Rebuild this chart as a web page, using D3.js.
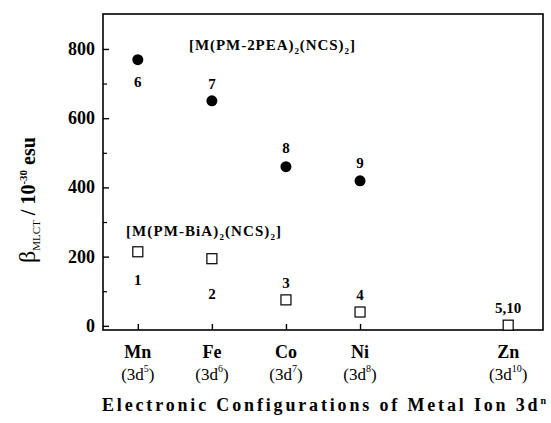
<!DOCTYPE html>
<html><head><meta charset="utf-8">
<script src="https://cdn.jsdelivr.net/npm/d3@7"></script>
<style>body{margin:0;background:#fff}svg{display:block}</style>
</head><body>
<script>
const metals = ["Mn","Fe","Co","Ni","Zn"];
const dCount = [5,6,7,8,10];
const seriesPEA = [769,650,460,419];          // filled circles, compounds 6-9
const labelsPEA = ["6","7","8","9"];
const seriesBiA = [214,194,75,40,2];          // open squares, compounds 1-5
const labelsBiA = ["1","2","3","4","5,10"];
const yTicks = [0,200,400,600,800];
const yMinor = [100,300,500,700];

const W=551,H=423;
const svg=d3.select("body").append("svg").attr("width",W).attr("height",H)
  .attr("font-family","'Liberation Serif','Times New Roman',Times,serif").attr("font-weight","bold");
const L=103,R=543,T=14,B=330;
const x=d3.scaleLinear().domain([4.53,10.47]).range([L,R]);
const y=d3.scaleLinear().domain([-12,901]).range([B,T]);

// frame
svg.append("rect").attr("x",L).attr("y",T).attr("width",R-L).attr("height",B-T)
  .attr("fill","none").attr("stroke","#000").attr("stroke-width",1.6);

// y axis
const ya=svg.append("g").attr("transform",`translate(${L},0)`)
  .call(d3.axisRight(y).tickValues(yTicks).tickSize(6).tickFormat(""));
ya.select(".domain").remove();
ya.selectAll("line").attr("stroke-width",1.4);
svg.append("g").attr("transform",`translate(${L},0)`)
  .call(d3.axisRight(y).tickValues(yMinor).tickSize(4).tickFormat(""))
  .call(g=>{g.select(".domain").remove();g.selectAll("line").attr("stroke-width",1.2);});
svg.selectAll(".ylab").data(yTicks).enter().append("text")
  .attr("x",L-8).attr("y",d=>y(d)+6).attr("text-anchor","end")
  .attr("font-size",18).text(d=>d);

// x axis
const xa=svg.append("g").attr("transform",`translate(0,${B})`)
  .call(d3.axisTop(x).tickValues(dCount).tickSize(6).tickFormat(""));
xa.select(".domain").remove();
xa.selectAll("line").attr("stroke-width",1.4);
const xl=svg.selectAll(".xl").data(metals).enter().append("g")
  .attr("transform",(d,i)=>`translate(${x(dCount[i])},0)`);
xl.append("text").attr("y",358).attr("text-anchor","middle").attr("font-size",18).text(d=>d);
const cfg=xl.append("text").attr("y",380).attr("text-anchor","middle").attr("font-size",17).attr("font-weight","normal");
cfg.append("tspan").text("(3d");
cfg.append("tspan").attr("dy",-8).attr("font-size",10).text((d,i)=>dCount[i]);
cfg.append("tspan").attr("dy",8).text(")");

// x title
const xt=svg.append("text").attr("x",102).attr("y",411)
  .attr("font-size",18).attr("textLength",444).attr("lengthAdjust","spacing");
xt.append("tspan").text("Electronic Configurations of Metal Ion 3d");
xt.append("tspan").attr("dy",-7).attr("font-size",10).text("n");

// y title
const yt=svg.append("text").attr("transform","translate(35,200) rotate(-90)")
  .attr("text-anchor","middle").attr("font-size",20);
yt.append("tspan").attr("font-size",24).attr("font-weight","normal").text("β");
yt.append("tspan").attr("dy",5).attr("font-size",11).attr("font-weight","normal").text("MLCT");
yt.append("tspan").attr("dy",-5).text(" /  10");
yt.append("tspan").attr("dy",-8).attr("font-size",11).text("-30");
yt.append("tspan").attr("dy",8).text(" esu");

// filled circles
svg.selectAll(".pc").data(seriesPEA).enter().append("circle")
  .attr("cx",(d,i)=>x(dCount[i])).attr("cy",d=>y(d)).attr("r",5.5).attr("fill","#000");
const pOff=[27,-12,-14,-13];
svg.selectAll(".pl").data(seriesPEA).enter().append("text")
  .attr("x",(d,i)=>x(dCount[i])).attr("y",(d,i)=>y(d)+pOff[i])
  .attr("text-anchor","middle").attr("font-size",15).text((d,i)=>labelsPEA[i]);

// open squares
svg.selectAll(".sq").data(seriesBiA).enter().append("rect")
  .attr("x",(d,i)=>x(dCount[i])-5).attr("y",d=>y(d)-5).attr("width",10).attr("height",10)
  .attr("fill","#fff").attr("stroke","#000").attr("stroke-width",1.2);
const sOff=[33,40,-12,-12,-12];
svg.selectAll(".sl").data(seriesBiA).enter().append("text")
  .attr("x",(d,i)=>x(dCount[i])).attr("y",(d,i)=>y(d)+sOff[i])
  .attr("text-anchor","middle").attr("font-size",15).text((d,i)=>labelsBiA[i]);

// series name labels
function formula(xp,yp,lig,len){
  const t=svg.append("text").attr("x",xp).attr("y",yp).attr("font-size",15)
    .attr("textLength",len).attr("lengthAdjust","spacing");
  t.append("tspan").text(`[M(${lig})`);
  t.append("tspan").attr("dy",4).attr("font-size",9).text("2");
  t.append("tspan").attr("dy",-4).text("(NCS)");
  t.append("tspan").attr("dy",4).attr("font-size",9).text("2");
  t.append("tspan").attr("dy",-4).text("]");
}
formula(189,50,"PM-2PEA",166);
formula(126,236,"PM-BiA",155);
</script>
</body></html>
